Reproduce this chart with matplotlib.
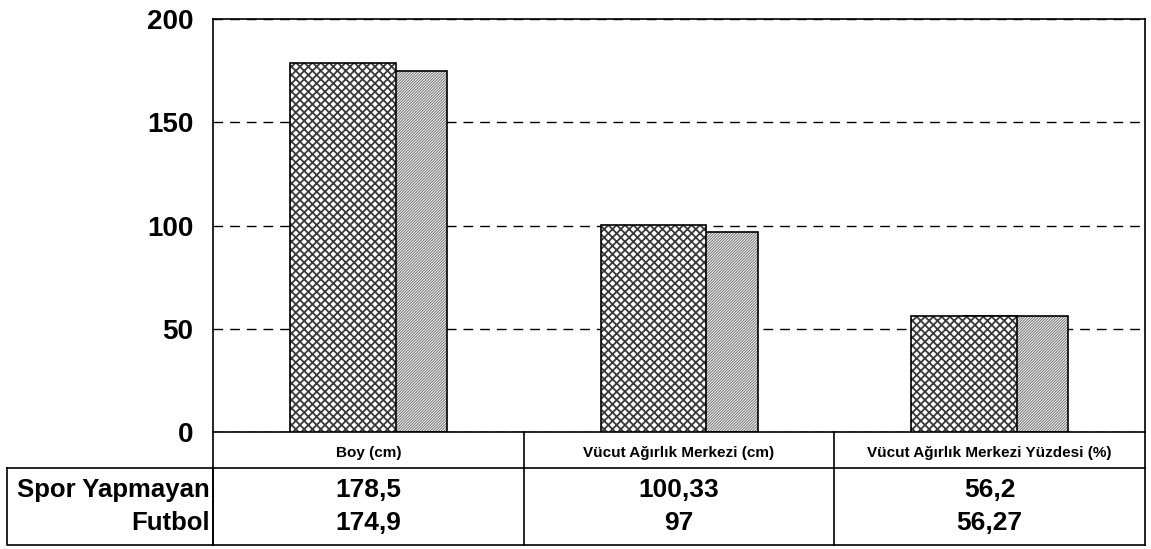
import matplotlib
matplotlib.use("Agg")
import matplotlib.pyplot as plt
from matplotlib.lines import Line2D

plt.rcParams['font.family'] = ['Liberation Sans', 'DejaVu Sans']
plt.rcParams['font.weight'] = 'bold'

# Data
categories = ["Boy (cm)", "Vücut Ağırlık Merkezi (cm)", "Vücut Ağırlık Merkezi Yüzdesi (%)"]
series_names = ["Spor Yapmayan", "Futbol"]
spor_yapmayan = [178.5, 100.33, 56.2]
futbol = [174.9, 97, 56.27]
value_labels = [["178,5", "100,33", "56,2"], ["174,9", "97", "56,27"]]
y_ticks = [0, 50, 100, 150, 200]

W, H = 1151, 549
fig = plt.figure(figsize=(W / 100, H / 100), dpi=100)
ax_left, ax_right, ax_top, ax_bottom = 213, 1145, 19, 432
ax = fig.add_axes([ax_left / W, 1 - ax_bottom / H,
                   (ax_right - ax_left) / W, (ax_bottom - ax_top) / H])

x = list(range(len(categories)))
bw = 0.34
x_cross = [i - 0.252 + bw / 2 for i in x]
x_diag = [i + 0.253 - bw / 2 for i in x]

# second series sits behind, partly covered by the first
plt.rcParams['hatch.linewidth'] = 0.8
ax.bar(x_diag, futbol, width=bw, color='white', edgecolor='#7c7c7c',
       hatch='/' * 12, linewidth=0, zorder=2)
ax.bar(x_diag, futbol, width=bw, fill=False, edgecolor='black',
       linewidth=1.2, zorder=3)
plt.rcParams['hatch.linewidth'] = 1.3
ax.bar(x_cross, spor_yapmayan, width=bw, color='white', edgecolor='#3a3a3a',
       hatch='xxxx', linewidth=0, zorder=4)
ax.bar(x_cross, spor_yapmayan, width=bw, fill=False, edgecolor='black',
       linewidth=1.2, zorder=5)

ax.set_xlim(-0.5, len(categories) - 0.5)
ax.set_ylim(0, 200)
ax.set_yticks(y_ticks)
ax.set_yticklabels([str(t) for t in y_ticks], fontsize=20, fontweight='bold')
ax.tick_params(axis='y', length=0, pad=14)
ax.set_xticks([])
ax.yaxis.grid(True, color='black', linestyle=(0, (7, 5)), linewidth=1.0)
ax.set_axisbelow(True)
for s in ax.spines.values():
    s.set_linewidth(1.2)

# Data table below the plot
bt = ax.get_xaxis_transform()
ax_h = ax_bottom - ax_top
ax_w = ax_right - ax_left


def fy(p):
    return (ax_bottom - p) / ax_h


def fx(p):
    return (p - ax_left) / ax_w


y_head = 468
y_end = 545
line_kw = dict(color='black', linewidth=1.2, clip_on=False)

# horizontal rules across the category columns
for yy in (y_head, y_end):
    ax.add_line(Line2D([-0.5, len(categories) - 0.5], [fy(yy), fy(yy)],
                       transform=bt, **line_kw))
# column separators
for b in [i - 0.5 for i in range(len(categories) + 1)]:
    ax.add_line(Line2D([b, b], [fy(ax_bottom), fy(y_end)], transform=bt, **line_kw))
# series label box
lab_left = 7
ax.add_line(Line2D([fx(lab_left), 0, 0, fx(lab_left), fx(lab_left)],
                   [fy(y_head), fy(y_head), fy(y_end), fy(y_end), fy(y_head)],
                   transform=ax.transAxes, **line_kw))

for i, c in enumerate(categories):
    ax.text(i, fy(453), c, transform=bt, ha='center', va='center',
            fontsize=11, fontweight='bold', clip_on=False)

row_y = [490, 523]
for r, name in enumerate(series_names):
    ax.text(fx(210), fy(row_y[r]), name, transform=ax.transAxes, ha='right',
            va='center', fontsize=18.5, fontweight='bold', clip_on=False)
    for i in x:
        ax.text(i, fy(row_y[r]), value_labels[r][i], transform=bt, ha='center',
                va='center', fontsize=19, fontweight='bold', clip_on=False)

fig.savefig("out.png", dpi=100)
